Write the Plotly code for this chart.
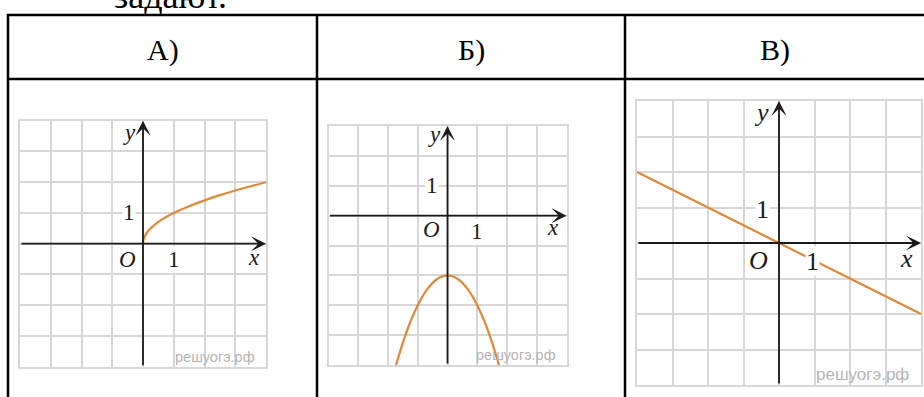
import plotly.graph_objects as go

W = 924
H = 397

# texts
top_text = 'задают.'
headers = ['А)', 'Б)', 'В)']
watermark = 'решуогэ.рф'

# graph А: y = sqrt(x)
a_x = [0, 0.02, 0.1, 0.25, 0.5, 0.75, 1, 1.5, 2, 2.5, 3, 3.5, 4]
a_y = [0, 0.14, 0.32, 0.5, 0.71, 0.87, 1, 1.22, 1.41, 1.58, 1.73, 1.87, 2]

# graph Б: parabola, vertex at (0, -2)
b_x = [-1.73, -1.5, -1.25, -1, -0.75, -0.5, -0.25, 0, 0.25, 0.5, 0.75, 1, 1.25, 1.5, 1.73]
b_y = [-5, -4.25, -3.56, -3, -2.56, -2.25, -2.06, -2, -2.06, -2.25, -2.56, -3, -3.56, -4.25, -5]

# graph В: straight line through the origin
c_x = [-4, 4]
c_y = [2, -2]

curve_color = '#e0893a'
grid_color = '#d7d7d7'
serif = 'Liberation Serif, Times New Roman, serif'

# pixel boxes of the three grids and where their labels sit (data units)
panels = [
	dict(xs=a_x, ys=a_y, box=(20, 120.7, 266, 366.7), xr=(-4, 4), yr=(-4, 4), fs=23, wfs=14.5,
		lab_y=(-0.45, 3.62), one_y=(-0.45, 1), lab_o=(-0.5, -0.5), one_x=(1, -0.5),
		lab_x=(3.6, -0.45), wm=(3.72, -3.67), shape='spline'),
	dict(xs=b_x, ys=b_y, box=(328.5, 126, 566.5, 365), xr=(-4, 4), yr=(-5, 3), fs=23, wfs=14.5,
		lab_y=(-0.43, 2.72), one_y=(-0.52, 1), lab_o=(-0.54, -0.47), one_x=(1.0, -0.53),
		lab_x=(3.56, -0.41), wm=(3.72, -4.66), shape='spline'),
	dict(xs=c_x, ys=c_y, box=(637, 101, 921, 385), xr=(-4, 4), yr=(-4, 4), fs=26, wfs=17,
		lab_y=(-0.49, 3.68), one_y=(-0.47, 0.93), lab_o=(-0.58, -0.5), one_x=(0.94, -0.53),
		lab_x=(3.58, -0.45), wm=(3.72, -3.69), shape='linear'),
]

fig = go.Figure()
annotations = []
layout = {}

for i, p in enumerate(panels):
	n = '' if i == 0 else str(i + 1)
	xref = 'x' + n
	yref = 'y' + n
	x0, y0, x1, y1 = p['box']
	# the function graph
	fig.add_trace(go.Scatter(x=p['xs'], y=p['ys'], mode='lines', xaxis=xref, yaxis=yref,
		line=dict(color=curve_color, width=2.2, shape=p['shape'], smoothing=1.0),
		hoverinfo='skip', showlegend=False))
	common = dict(showgrid=True, gridcolor=grid_color, gridwidth=1.5, dtick=1, tick0=0,
		showline=True, mirror=True, linecolor=grid_color, linewidth=1.5,
		zeroline=False, showticklabels=False, ticks='', fixedrange=True)
	layout['xaxis' + n] = dict(common, domain=[x0 / W, x1 / W], range=list(p['xr']), anchor=yref)
	layout['yaxis' + n] = dict(common, domain=[1 - y1 / H, 1 - y0 / H], range=list(p['yr']), anchor=xref)
	# axes with arrows
	arrow = dict(xref=xref, yref=yref, axref=xref, ayref=yref, text='', showarrow=True,
		arrowhead=3, arrowsize=1.4, arrowwidth=1.8, arrowcolor='#1a1a1a', standoff=0)
	annotations.append(dict(arrow, x=p['xr'][1], y=0, ax=p['xr'][0], ay=0))
	annotations.append(dict(arrow, x=0, y=p['yr'][1], ax=0, ay=p['yr'][0]))
	# axis labels
	lab = dict(xref=xref, yref=yref, showarrow=False, xanchor='center', yanchor='middle',
		font=dict(family=serif, size=p['fs'], color='#1a1a1a'))
	annotations.append(dict(lab, x=p['lab_y'][0], y=p['lab_y'][1], text='<i>y</i>'))
	annotations.append(dict(lab, x=p['lab_x'][0], y=p['lab_x'][1], text='<i>x</i>'))
	annotations.append(dict(lab, x=p['lab_o'][0], y=p['lab_o'][1], text='<i>O</i>'))
	annotations.append(dict(lab, x=p['one_y'][0], y=p['one_y'][1], text='1', bgcolor='white', borderpad=0))
	annotations.append(dict(lab, x=p['one_x'][0], y=p['one_x'][1], text='1', bgcolor='white', borderpad=0))
	# site watermark
	annotations.append(dict(xref=xref, yref=yref, x=p['wm'][0], y=p['wm'][1], xanchor='right',
		yanchor='middle', showarrow=False, text=watermark,
		font=dict(family='Liberation Sans, Arial, sans-serif', size=p['wfs'], color='#b4b4b4')))

# table headers
col_edges = [8, 317, 625, 924]
for i, h in enumerate(headers):
	annotations.append(dict(xref='paper', yref='paper', x=(col_edges[i] + col_edges[i + 1]) / 2 / W,
		y=1 - 50 / H, xanchor='center', yanchor='middle', text=h, showarrow=False,
		font=dict(family=serif, size=30, color='black')))

# cut-off line of text above the table
annotations.append(dict(xref='paper', yref='paper', x=170 / W, y=1 - 18 / H, xanchor='center',
	yanchor='bottom', text=top_text, showarrow=False, font=dict(family=serif, size=36, color='black')))

# table lines
shapes = []
border = dict(type='line', xref='paper', yref='paper', line=dict(color='black', width=2.5))
for yy in [15, 79]:
	shapes.append(dict(border, x0=7 / W, x1=1, y0=1 - yy / H, y1=1 - yy / H))
for xx in col_edges[:3]:
	shapes.append(dict(border, x0=xx / W, x1=xx / W, y0=0, y1=1 - 14 / H))

fig.update_layout(width=W, height=H, margin=dict(l=0, r=0, t=0, b=0),
	paper_bgcolor='white', plot_bgcolor='white', showlegend=False,
	annotations=annotations, shapes=shapes, **layout)

# page body has a default margin, drop it so the figure sits at the corner
fig.write_html("out.html", config={'displayModeBar': False},
	post_script="document.body.style.margin='0';")
